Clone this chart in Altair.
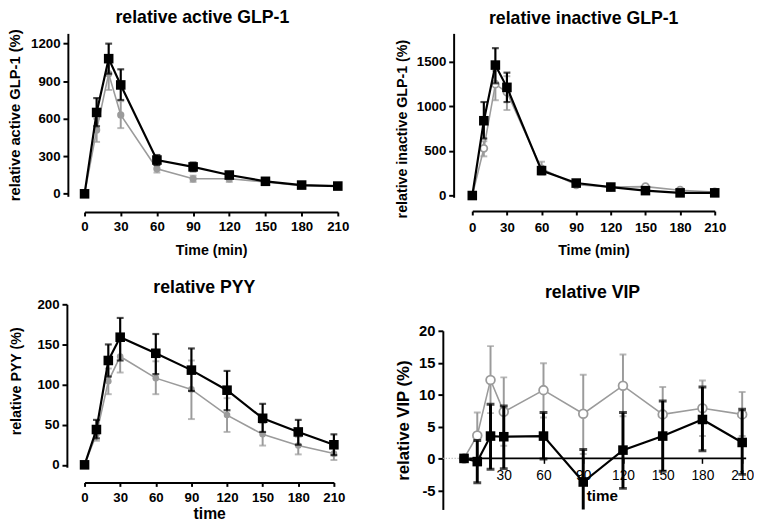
import altair as alt
import pandas as pd

times = [0, 10, 20, 30, 60, 90, 120, 150, 180, 210]

# relative active GLP-1 (%)
act_black = [0, 650, 1080, 870, 270, 215, 150, 100, 70, 62]
act_black_lo = [0, 540, 960, 750, 230, 180, 125, 85, 58, 50]
act_black_hi = [0, 765, 1200, 995, 310, 250, 175, 115, 80, 72]
act_gray = [0, 510, 960, 630, 200, 120, 120, 95, 65, 60]
act_gray_lo = [0, 415, 830, 525, 170, 95, 95, 80, 55, 50]
act_gray_hi = [0, 600, 1090, 740, 230, 145, 145, 110, 75, 70]

# relative inactive GLP-1 (%)
inact_black = [0, 840, 1465, 1215, 280, 140, 95, 55, 30, 30]
inact_black_lo = [0, 640, 1260, 1050, 240, 120, 80, 45, 22, 22]
inact_black_hi = [0, 1050, 1655, 1380, 320, 160, 110, 65, 38, 38]
inact_gray = [0, 530, 1250, 1160, 300, 120, 95, 100, 60, 40]
inact_gray_lo = [0, 440, 1070, 960, 250, 100, 80, 85, 50, 32]
inact_gray_hi = [0, 610, 1400, 1340, 380, 140, 110, 115, 70, 48]

# relative PYY (%)
pyy_black = [0, 44, 130, 159, 139, 118, 93, 58, 41, 25]
pyy_black_lo = [0, 33, 110, 130, 113, 92, 68, 41, 25, 12]
pyy_black_hi = [0, 56, 150, 183, 163, 145, 117, 76, 56, 38]
pyy_gray = [0, 38, 104, 135, 108, 94, 62, 38, 24, 14]
pyy_gray_lo = [0, 30, 88, 115, 88, 57, 41, 24, 13, 6]
pyy_gray_hi = [0, 46, 120, 155, 129, 130, 83, 52, 35, 22]

# relative VIP (%)
vip_black = [0, -0.5, 3.5, 3.4, 3.5, -3.7, 1.3, 3.5, 6.1, 2.5]
vip_black_lo = [0, -3.8, -1.7, -1.6, -0.1, -9.0, -4.7, -2.0, 1.2, -2.5]
vip_black_hi = [0, 2.8, 8.5, 8.2, 7.2, 1.4, 7.2, 9.0, 11.2, 7.7]
vip_gray = [0, 3.6, 12.3, 7.3, 10.7, 7.0, 11.4, 6.9, 7.85, 6.9]
vip_gray_lo = [0, 0.0, 7.1, 2.0, 6.4, 0.7, 6.6, 3.0, 3.5, 3.5]
vip_gray_hi = [0, 7.2, 17.6, 12.7, 14.9, 13.1, 16.3, 11.2, 12.2, 10.4]

GLP_TICKS_X = [0, 30, 60, 90, 120, 150, 180, 210]
VIP_TICKS_X = [30, 60, 90, 120, 150, 180, 210]

FONT = "Liberation Sans"
GRAY = "#9b9b9b"


def make_df(mean, lo, hi):
    return pd.DataFrame({"t": times, "mean": mean, "lo": lo, "hi": hi})


def panel(dfs, width, height, xdom, ydom, xaxis, yaxis, title, gray_open,
          black_size=95, gray_size=55, clip_err=False, extra=None,
          cap_b=7, cap_g=7, rule_b=2.2, rule_g=2):
    xs = alt.Scale(domain=xdom, nice=False, zero=False)
    ys = alt.Scale(domain=ydom, nice=False, zero=False)

    def X():
        return alt.X("t:Q", scale=xs, axis=xaxis)

    def Y(f):
        return alt.Y(f + ":Q", scale=ys, axis=yaxis)

    layers = []
    if extra is not None:
        layers += extra(X, Y)
    for key in ["gray", "black"]:
        d = dfs[key]
        col = GRAY if key == "gray" else "black"
        err = d[d["t"] > 0]
        b = alt.Chart(err)
        rw = rule_g if key == "gray" else rule_b
        cw = cap_g if key == "gray" else cap_b
        layers.append(b.mark_rule(color=col, strokeWidth=rw, clip=clip_err)
                      .encode(x=X(), y=Y("lo"), y2="hi:Q"))
        layers.append(b.mark_tick(color=col, orient="horizontal", size=cw,
                                  thickness=rw, clip=clip_err)
                      .encode(x=X(), y=Y("hi")))
        layers.append(b.mark_tick(color=col, orient="horizontal", size=cw,
                                  thickness=rw, clip=clip_err)
                      .encode(x=X(), y=Y("lo")))
        c = alt.Chart(d)
        layers.append(c.mark_line(color=col, strokeWidth=1.6 if key == "gray" else 2.2)
                      .encode(x=X(), y=Y("mean")))
        if key == "black":
            pt = c.mark_point(shape="square", filled=True, color="black",
                              size=black_size, opacity=1)
        elif gray_open:
            pt = c.mark_point(shape="circle", filled=False, color=GRAY,
                              fill="white", fillOpacity=1, strokeWidth=1.8,
                              size=gray_size, opacity=1)
        else:
            pt = c.mark_point(shape="circle", filled=True, color=GRAY,
                              size=gray_size, opacity=1)
        layers.append(pt.encode(x=X(), y=Y("mean")))
    return alt.layer(*layers).properties(width=width, height=height, title=title)


def glp_xaxis(offset, title, title_size=14.5, title_pad=6, label_pad=4):
    return alt.Axis(values=GLP_TICKS_X, title=title, offset=offset, tickSize=4,
                    labelFontSize=13.5, labelPadding=label_pad, titleFontSize=title_size,
                    titlePadding=title_pad, labelOverlap=False, labelFlush=False)


def ptitle(text, offset, dx, size=18, line_height=None):
    kw = {}
    if line_height is not None:
        kw["lineHeight"] = line_height
    return alt.TitleParams(text=text, fontSize=size, font=FONT, fontWeight="bold",
                           anchor="middle", frame="group", offset=offset, dx=dx,
                           color="black", **kw)


p1 = panel(
    {"black": make_df(act_black, act_black_lo, act_black_hi),
     "gray": make_df(act_gray, act_gray_lo, act_gray_hi)},
    258, 166, [0, 210], [-20, 1282],
    glp_xaxis(16, "Time (min)", title_pad=11),
    alt.Axis(values=[0, 300, 600, 900, 1200], title="relative active GLP-1 (%)",
             offset=17, tickSize=5, labelFontSize=13.5, labelPadding=3, format="d",
             minExtent=38, maxExtent=38, titleFontSize=15, titlePadding=8),
    ptitle("relative active GLP-1", 2, -9), gray_open=False)

p2 = panel(
    {"black": make_df(inact_black, inact_black_lo, inact_black_hi),
     "gray": make_df(inact_gray, inact_gray_lo, inact_gray_hi)},
    247, 167, [0, 210], [-20, 1821],
    glp_xaxis(14, "Time (min)", title_pad=9.5, label_pad=6),
    alt.Axis(values=[0, 500, 1000, 1500], title="relative inactive GLP-1 (%)",
             offset=19, tickSize=5, labelFontSize=13.5, labelPadding=3, format="d",
             minExtent=38, maxExtent=38, titleFontSize=14.5, titlePadding=7,
             titleY=97),
    ptitle("relative inactive GLP-1", 5.5, -10), gray_open=True, gray_size=50)

p3 = panel(
    {"black": make_df(pyy_black, pyy_black_lo, pyy_black_hi),
     "gray": make_df(pyy_gray, pyy_gray_lo, pyy_gray_hi)},
    254, 166, [0, 210], [-3, 200],
    glp_xaxis(15.5, "time", title_size=16, title_pad=2),
    alt.Axis(values=[0, 50, 100, 150, 200], title="relative PYY (%)",
             offset=18, tickSize=5, labelFontSize=13.5, labelPadding=3,
             minExtent=38, maxExtent=38, titleFontSize=14.5, titlePadding=6,
             titleY=78),
    ptitle(["", "relative PYY"], 1, -5, line_height=6), gray_open=False, gray_size=45)


def vip_zero(X, Y):
    dotted = pd.DataFrame({"t": [-16], "t2": [0], "mean": [0]})
    solid = pd.DataFrame({"t": [0], "t2": [213], "mean": [0]})
    return [
        alt.Chart(dotted).mark_rule(color="#aaaaaa", strokeWidth=1.2, strokeDash=[1, 2])
        .encode(x=X(), x2="t2:Q", y=Y("mean")),
        alt.Chart(solid).mark_rule(color="black", strokeWidth=1.8)
        .encode(x=X(), x2="t2:Q", y=Y("mean")),
    ]


p4 = panel(
    {"black": make_df(vip_black, vip_black_lo, vip_black_hi),
     "gray": make_df(vip_gray, vip_gray_lo, vip_gray_hi)},
    309, 182, [-16, 213], [-8, 20],
    alt.Axis(values=VIP_TICKS_X, title="time", offset=-52, domain=False, tickSize=5,
             tickWidth=1.5, labelFontSize=14, labelFontWeight="normal", labelPadding=5,
             titleFontSize=15.5, titleX=162, titleY=31, labelOverlap=False,
             labelFlush=False),
    alt.Axis(values=[-5, 0, 5, 10, 15, 20], title="relative VIP (%)", offset=0,
             tickSize=5, labelFontSize=15, labelPadding=3, minExtent=25, maxExtent=25,
             titleFontSize=17, titlePadding=6, labelExpr="'' + datum.value"),
    ptitle(["", "relative VIP"], 22.5, -2, line_height=11), gray_open=True,
    gray_size=80, clip_err=True, extra=vip_zero, cap_b=8, rule_b=3)

chart = alt.concat(
    p1, p2, p3, p4, columns=2, align="none",
    spacing={"row": 16, "column": 46},
).properties(
    padding={"top": -4, "left": 0, "right": 0, "bottom": 0}
).configure_view(strokeWidth=0).configure_axis(
    grid=False, domainColor="black", tickColor="black", labelColor="black",
    titleColor="black", labelFont=FONT, titleFont=FONT, labelFontWeight="bold",
    titleFontWeight="bold", domainWidth=2, tickWidth=2
)

chart.save("out.html", embed_options={"renderer": "svg", "actions": False})
